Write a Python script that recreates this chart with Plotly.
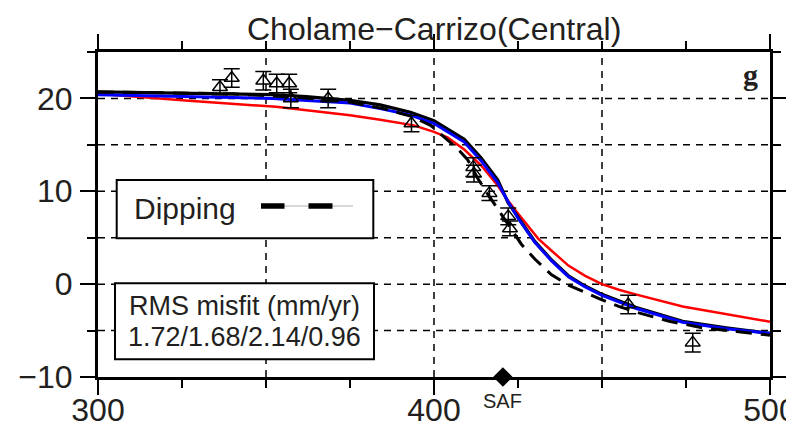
import plotly.graph_objects as go

# ---------------- data ----------------
obs_x = [336.3, 339.8, 349.2, 353.2, 356.9, 357.4, 368.5, 393.3, 411.7, 411.9, 416.5, 422.1, 422.6, 457.8, 477.0]
obs_y = [21.2, 22.2, 21.9, 21.6, 21.6, 20.0, 20.0, 17.3, 12.6, 11.9, 9.8, 7.3, 6.0, -2.2, -6.3]
obs_err = [0.8, 1.0, 1.0, 1.0, 1.0, 1.0, 1.0, 0.9, 1.0, 0.9, 0.8, 0.9, 0.8, 1.0, 1.0]

black_x = [300, 320, 340, 352, 362, 375, 384, 393, 400, 405, 409, 414, 419, 422, 425, 430, 435, 440, 445, 450, 455, 460, 474, 487, 500]
black_y = [20.7, 20.6, 20.5, 20.4, 20.2, 19.8, 19.3, 18.5, 17.6, 16.5, 15.6, 13.6, 11.2, 8.8, 7.2, 4.6, 2.6, 0.9, -0.2, -1.1, -1.8, -2.5, -4.0, -4.7, -5.3]

blue_x = [300, 340, 352, 375, 384, 393, 400, 405, 409, 414, 419, 422, 425, 430, 435, 440, 445, 450, 455, 460, 474, 487, 500]
blue_y = [20.4, 20.1, 20.0, 19.5, 18.9, 18.2, 17.3, 16.2, 15.3, 13.3, 10.9, 8.9, 7.1, 4.5, 2.5, 0.8, -0.3, -1.2, -1.9, -2.6, -4.1, -4.8, -5.3]

red_x = [300, 325, 353, 375, 384, 394, 400, 404, 409, 414, 419, 422, 425, 431, 435, 440, 445, 450, 455, 460, 474, 487, 500]
red_y = [20.5, 19.8, 19.1, 18.2, 17.7, 17.1, 16.4, 15.8, 14.5, 12.8, 10.6, 9.0, 7.6, 4.9, 3.6, 2.0, 0.9, 0.0, -0.6, -1.1, -2.4, -3.2, -4.05]

dip_x = [300, 340, 360, 375, 385, 393, 399, 404, 407, 410, 413, 416, 419, 422, 426, 430, 435, 440, 445, 450, 455, 460, 470, 480, 490, 500]
dip_y = [20.7, 20.5, 20.1, 19.6, 18.9, 18.1, 17.1, 15.6, 14.6, 13.4, 11.4, 9.7, 8.1, 6.5, 4.3, 2.7, 1.0, -0.1, -0.9, -1.7, -2.4, -3.0, -4.0, -4.7, -5.1, -5.5]

saf_x = [420.5]
saf_y = [-10]
saf_label = "SAF"

title_text = "Cholame\u2212Carrizo(Central)"
legend_label = "Dipping"
rms_title = "RMS misfit (mm/yr)"
rms_values = "1.72/1.68/2.14/0.96"
panel_label = "g"

# ---------------- layout helpers ----------------
# the page body has an 8px margin, so the figure is drawn 8px in from the window corner
OFF = 8
W, H = 794 - 2 * OFF, 435 - 2 * OFF
L, R, T, B = 98 - OFF, 794 - OFF - 770, 52 - OFF, 435 - OFF - 377
PW, PH = W - L - R, H - T - B


def px(x):
    return (x - OFF - L) / PW


def py(y):
    return (OFF + H - B - y) / PH


FONT = "Liberation Sans, Arial, Helvetica, sans-serif"
TXT = "#231f20"

fig = go.Figure()

fig.add_trace(go.Scatter(x=red_x, y=red_y, mode="lines", line=dict(color="#ff0000", width=2.5), showlegend=False))
fig.add_trace(go.Scatter(x=black_x, y=black_y, mode="lines", line=dict(color="black", width=3.2), showlegend=False))
fig.add_trace(go.Scatter(x=blue_x, y=blue_y, mode="lines", line=dict(color="#0000ff", width=3), showlegend=False))
fig.add_trace(go.Scatter(x=dip_x, y=dip_y, mode="lines",
                         line=dict(color="black", width=3, dash="16px,9px"), showlegend=False))

fig.add_trace(go.Scatter(
    x=obs_x, y=obs_y, mode="markers",
    marker=dict(symbol="triangle-up-open", size=13, color="black", line=dict(width=1.5, color="black")),
    error_y=dict(type="data", array=obs_err, visible=True, color="black", thickness=1.5, width=8),
    showlegend=False))

fig.add_trace(go.Scatter(
    x=saf_x, y=saf_y, mode="markers",
    marker=dict(symbol="diamond", size=15, color="black"),
    cliponaxis=False, showlegend=False))

shapes = []
# dashed grid lines
for gx in [350, 400, 450]:
    shapes.append(dict(type="line", xref="x", yref="paper", x0=gx, x1=gx, y0=0, y1=1,
                       line=dict(color="black", width=1.5, dash="7px,6px"), layer="below"))
for gy in [-5, 0, 5, 10, 15, 20]:
    shapes.append(dict(type="line", xref="paper", yref="y", x0=0, x1=1, y0=gy, y1=gy,
                       line=dict(color="black", width=1.5, dash="7px,6px"), layer="below"))

# legend box
shapes.append(dict(type="rect", xref="paper", yref="paper",
                   x0=px(116.7), x1=px(373.3), y0=py(238.3), y1=py(180),
                   line=dict(color="black", width=2), fillcolor="white", layer="above"))
shapes.append(dict(type="line", xref="paper", yref="paper",
                   x0=px(261), x1=px(353), y0=py(206), y1=py(206),
                   line=dict(color="#b0b0b0", width=1), layer="above"))
for a, b in [(261, 284.5), (308.5, 332.5)]:
    shapes.append(dict(type="line", xref="paper", yref="paper",
                       x0=px(a), x1=px(b), y0=py(206), y1=py(206),
                       line=dict(color="black", width=5.5), layer="above"))
# RMS box
shapes.append(dict(type="rect", xref="paper", yref="paper",
                   x0=px(115), x1=px(374), y0=py(359.3), y1=py(283.3),
                   line=dict(color="black", width=2), fillcolor="white", layer="above"))

annotations = [
    dict(text=title_text, xref="paper", yref="paper", x=0.5, y=1, yanchor="bottom", yshift=3,
         showarrow=False, font=dict(family=FONT, size=32, color=TXT)),
    dict(text=legend_label, xref="paper", yref="paper", x=px(132), y=py(208), xanchor="left", yanchor="middle",
         showarrow=False, font=dict(family=FONT, size=30, color=TXT)),
    dict(text=rms_title, xref="paper", yref="paper", x=px(244.5), y=py(306), xanchor="center", yanchor="middle",
         showarrow=False, font=dict(family=FONT, size=27, color=TXT)),
    dict(text=rms_values, xref="paper", yref="paper", x=px(244.5), y=py(337), xanchor="center", yanchor="middle",
         showarrow=False, font=dict(family=FONT, size=27, color=TXT)),
    dict(text="<b>" + panel_label + "</b>", xref="paper", yref="paper", x=px(750), y=py(74),
         xanchor="center", yanchor="middle", showarrow=False,
         font=dict(family="Liberation Serif, Times New Roman, serif", size=30, color=TXT)),
    dict(text=saf_label, xref="x", yref="paper", x=saf_x[0], y=0, yanchor="middle", yshift=-24,
         showarrow=False, font=dict(family=FONT, size=20, color=TXT)),
]

axis_common = dict(
    showline=True, linewidth=3, linecolor="black", mirror="allticks",
    ticks="outside", ticklen=15, tickwidth=2, tickcolor="black",
    showgrid=False, zeroline=False, automargin=False, ticklabeloverflow="allow",
    tickfont=dict(family=FONT, size=32, color=TXT),
)

fig.update_layout(
    width=W, height=H,
    margin=dict(l=L, r=R, t=T, b=B, autoexpand=False),
    paper_bgcolor="white", plot_bgcolor="white",
    xaxis=dict(range=[300, 500], tick0=300, dtick=100, ticklabelstandoff=-12,
               minor=dict(ticks="outside", ticklen=8, tickwidth=2, tickcolor="black", dtick=25, showgrid=False),
               **axis_common),
    yaxis=dict(range=[-10, 25], tick0=-10, dtick=10, ticklabelstandoff=1,
               minor=dict(ticks="outside", ticklen=8, tickwidth=2, tickcolor="black", dtick=5, showgrid=False),
               **axis_common),
    shapes=shapes,
    annotations=annotations,
    showlegend=False,
)

fig.write_html("out.html")
